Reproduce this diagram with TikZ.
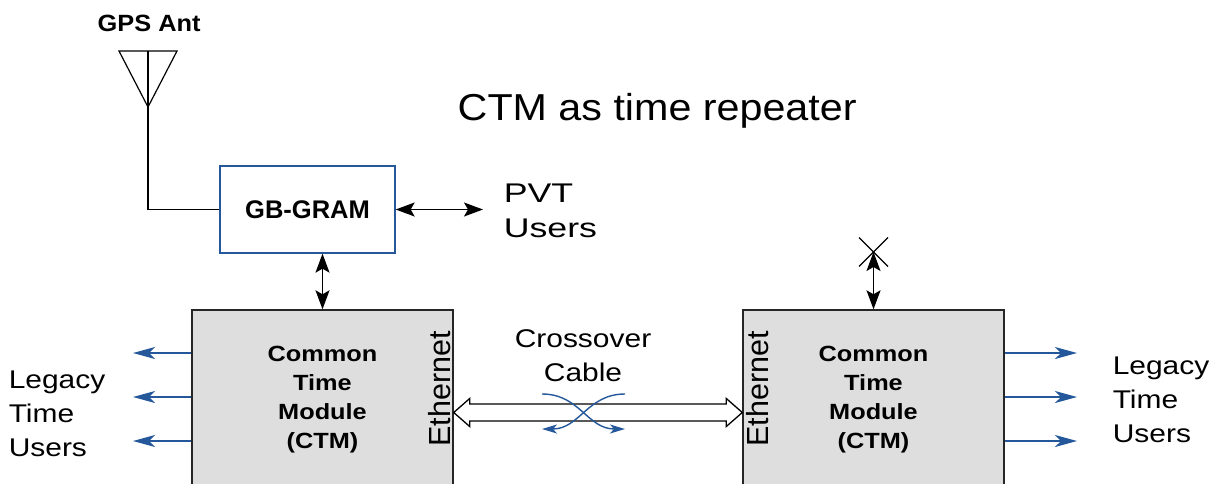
\documentclass[tikz,border=0pt]{standalone}
\usepackage{fontspec}
\setmainfont{Liberation Sans}
\usetikzlibrary{arrows.meta,calc}
\definecolor{cblue}{HTML}{24589A}
\definecolor{cgray}{HTML}{DEDEDE}
\begin{document}
\begin{tikzpicture}[x=1pt,y=-1pt,line width=1.3pt,
  ctmbox/.style={draw=black!85, fill=cgray, line width=1.4pt, minimum width=261pt, minimum height=200pt, inner sep=0pt},
  regtxt/.style={font=\fontsize{25.6}{34}\selectfont, xscale=1.17, align=left, inner sep=0pt},
  ctmtxt/.style={font=\bfseries\fontsize{22}{28.7}\selectfont, xscale=1.15, align=center, inner sep=0pt},
  ethtxt/.style={font=\fontsize{30.5}{36}\selectfont, rotate=90, inner sep=0pt, anchor=base west},
  twoway/.style={line width=1.5pt, {Stealth[length=19pt,width=14pt,inset=4pt]}-{Stealth[length=19pt,width=14pt,inset=4pt]}},
  bluearr/.style={draw=cblue, line width=1.4pt, -{Stealth[length=22pt,width=12pt,inset=6pt]}},
  crossarr/.style={draw=cblue, line width=1.4pt, -{Stealth[length=15pt,width=9pt,inset=4pt]}}
]
\useasboundingbox (0,0) rectangle (1223,483);
\clip (0,0) rectangle (1223,483);

% title
\node[anchor=base west, font=\fontsize{37.5}{45}\selectfont, xscale=1.1, inner sep=0pt] (title) at (457,120) {CTM as time repeater};

% antenna
\node[anchor=base west, font=\bfseries\fontsize{23.5}{28}\selectfont, xscale=1.08, inner sep=0pt] (gpsant) at (97,31) {GPS Ant};
\coordinate (antL) at (119,51);
\coordinate (antR) at (177,51);
\coordinate (antT) at (148,51);
\coordinate (antB) at (148,107);
\draw[line width=1.2pt] (antL) -- (antR) -- (antB) -- cycle;
\draw[line width=1.2pt] (antT) -- (antB);

% GB-GRAM
\node[draw=cblue, line width=1.3pt, minimum width=175pt, minimum height=87pt, inner sep=0pt,
      font=\bfseries\fontsize{25.5}{30}\selectfont] (gbgram) at (307.5,209.5) {GB-GRAM};
\draw[line width=1.2pt] (antB) |- (gbgram.west);

% PVT users
\coordinate (pvt) at (483,209.5);
\draw[twoway] (gbgram.east) -- (pvt);
\node[regtxt, font=\fontsize{27}{35}\selectfont, xscale=1.13, anchor=base west] (pvtusers) at (503,237) {PVT\\Users};

% CTM boxes
\node[ctmbox] (ctmL) at (322.5,410) {};
\node[ctmbox] (ctmR) at (873.5,410) {};
\node[ctmtxt, anchor=base] (ctmLt) at (322.5,448) {Common\\Time\\Module\\(CTM)};
\node[ctmtxt, anchor=base] (ctmRt) at (873.5,448) {Common\\Time\\Module\\(CTM)};
\node[ethtxt] (ethLt) at (450,447) {Ethernet};
\node[ethtxt] (ethRt) at (768,447) {Ethernet};

% vertical connectors
\draw[twoway] (ctmL.north) -- (ctmL.north |- gbgram.south);
\coordinate (xc) at (873.5,252);
\draw[line width=1.2pt] ($(xc)+(-14.5,-14.5)$) -- ($(xc)+(14.5,14.5)$);
\draw[line width=1.2pt] ($(xc)+(14.5,-14.5)$) -- ($(xc)+(-14.5,14.5)$);
\draw[twoway] (ctmR.north) -- (xc);

% legacy time users
\foreach \yy in {353,397,441}{
  \draw[bluearr] (ctmL.west |- 0,\yy) -- (133,\yy);
  \draw[bluearr] (ctmR.east |- 0,\yy) -- (1077,\yy);
}
\node[regtxt, anchor=base west] (legL) at (8,456) {Legacy\\Time\\Users};
\node[regtxt, anchor=base west] (legR) at (1112,442) {Legacy\\Time\\Users};

% crossover cable
\coordinate (ethL) at (ctmL.east |- 0,412.5);
\coordinate (ethR) at (ctmR.west |- 0,412.5);
\draw[fill=white, line width=1.3pt] (ethL) -- ++(16,-14) -- ++(0,5.5) -- ($(ethR)+(-16,-8.5)$) -- ++(0,-5.5) -- (ethR)
   -- ++(-16,14) -- ++(0,-5.5) -- ($(ethL)+(16,8.5)$) -- ++(0,5.5) -- cycle;
\coordinate (c1) at (542,394);
\coordinate (c2) at (625,394);
\coordinate (c3) at (542,429);
\coordinate (c4) at (625,429);
\draw[crossarr] (c1) .. controls (580,394) and (587,429) .. (c4);
\draw[crossarr] (c2) .. controls (587,394) and (580,429) .. (c3);
\node[regtxt, align=center, anchor=base] (cross) at (583,381) {Crossover\\Cable};
\end{tikzpicture}
\end{document}
